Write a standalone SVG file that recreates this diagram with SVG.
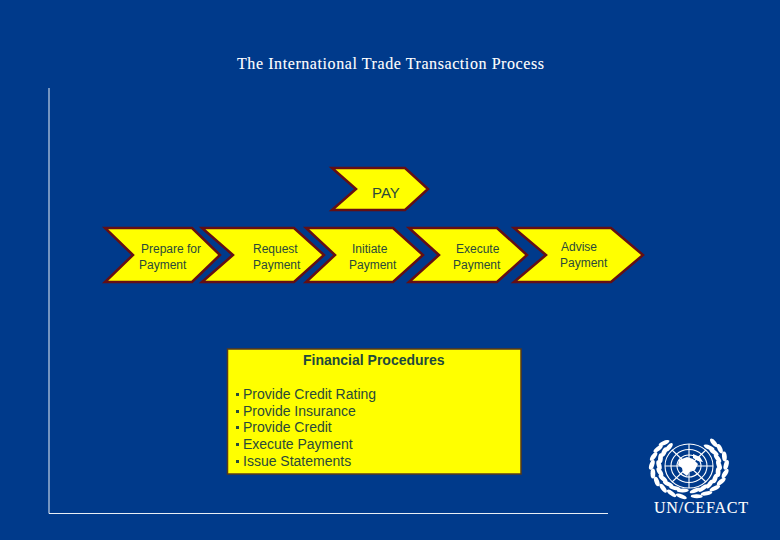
<svg xmlns="http://www.w3.org/2000/svg" width="780" height="540" viewBox="0 0 780 540">
<defs>
<g id="leaf"><ellipse cx="689" cy="491" rx="5" ry="2" transform="rotate(-14 689 491)" fill="#fff"/><ellipse cx="689" cy="497" rx="5" ry="2" transform="rotate(14 689 497)" fill="#fff"/></g>
</defs>
<style>
.ch{fill:#ffff00;stroke:#640f14;stroke-width:2.500;stroke-linejoin:miter}
.t{font-family:"Liberation Sans",Arial,sans-serif;font-size:12px;fill:#2a4a3a}
.b{font-family:"Liberation Sans",Arial,sans-serif;font-size:14px;fill:#2a4a3a}
.s{font-family:"Liberation Serif","Times New Roman",serif;fill:#fff;stroke:#fff;stroke-width:.1}
.e{fill:none;stroke:#fff;stroke-width:1.100}
.l{fill:#fff}
</style>
<rect width="780" height="540" fill="#003a8b"/>
<text class="s" x="237" y="69" font-size="16" textLength="307" lengthAdjust="spacing">The International Trade Transaction Process</text>
<g id="axes" fill="none" stroke="#e8eef5" stroke-width="1"><path d="M49 88V513.500H608"/></g>
<g id="pay"><path class="ch" d="M332 168H405L428 189L405 210H332L356 189Z"/><text x="372" y="198" class="b" style="font-size:15px">PAY</text></g>
<g id="prepare"><path class="ch" d="M105 228H192L220 255L192 282H105L133 255Z"/><text class="t" x="141" y="253">Prepare for</text><text class="t" x="139" y="269">Payment</text></g>
<g id="request"><path class="ch" d="M202 228H294L324 255L294 282H202L233 255Z"/><text class="t" x="253" y="253">Request</text><text class="t" x="253" y="269">Payment</text></g>
<g id="initiate"><path class="ch" d="M306 228H393L423 255L393 282H306L335 255Z"/><text class="t" x="352" y="253">Initiate</text><text class="t" x="349" y="269">Payment</text></g>
<g id="execute"><path class="ch" d="M409 228H497L527 255L497 282H409L439 255Z"/><text class="t" x="456" y="253">Execute</text><text class="t" x="453" y="269">Payment</text></g>
<g id="advise"><path class="ch" d="M514 228H611L643 255L611 282H514L546 255Z"/><text class="t" x="561" y="251">Advise</text><text class="t" x="560" y="267">Payment</text></g>
<g id="financial">
<rect x="227.500" y="349" width="293.500" height="125" fill="#ffff00" stroke="#5a3a1a" stroke-width="1.500"/>
<text class="b" x="303" y="365" style="font-weight:bold;fill:#1f4a3c">Financial Procedures</text>
<rect x="236" y="393" width="3" height="3" fill="#2a4a3a"/><text class="b" x="243" y="399">Provide Credit Rating</text>
<rect x="236" y="410" width="3" height="3" fill="#2a4a3a"/><text class="b" x="243" y="416">Provide Insurance</text>
<rect x="236" y="426" width="3" height="3" fill="#2a4a3a"/><text class="b" x="243" y="432">Provide Credit</text>
<rect x="236" y="443" width="3" height="3" fill="#2a4a3a"/><text class="b" x="243" y="449">Execute Payment</text>
<rect x="236" y="460" width="3" height="3" fill="#2a4a3a"/><text class="b" x="243" y="466">Issue Statements</text>
</g>
<g id="emblem">
<ellipse class="e" cx="689" cy="466" rx="24" ry="22"/><ellipse class="e" cx="689" cy="466" rx="18" ry="16.500"/><ellipse class="e" cx="689" cy="466" rx="12" ry="11"/><ellipse class="e" cx="689" cy="466" rx="6" ry="5.500"/>
<path class="e" d="M689 444V488M665 466H713M672 450L706 482M706 450L672 482"/>
<path class="l" d="M679 460l8-3 6 2 5 5-3 6-5 1-3 5-4-3-1-5-4-3zM693 454l7 3 3 5-5-1-5-3z"/>
<g transform="translate(689 466) scale(1.200 1) translate(-689 -466)">
<use href="#leaf" transform="rotate(12 689 466)"/>
<use href="#leaf" transform="rotate(28 689 466)"/>
<use href="#leaf" transform="rotate(44 689 466)"/>
<use href="#leaf" transform="rotate(60 689 466)"/>
<use href="#leaf" transform="rotate(76 689 466)"/>
<use href="#leaf" transform="rotate(92 689 466)"/>
<use href="#leaf" transform="rotate(108 689 466)"/>
<use href="#leaf" transform="rotate(124 689 466)"/>
<use href="#leaf" transform="rotate(138 689 466)"/>
<use href="#leaf" transform="rotate(-12 689 466)"/>
<use href="#leaf" transform="rotate(-28 689 466)"/>
<use href="#leaf" transform="rotate(-44 689 466)"/>
<use href="#leaf" transform="rotate(-60 689 466)"/>
<use href="#leaf" transform="rotate(-76 689 466)"/>
<use href="#leaf" transform="rotate(-92 689 466)"/>
<use href="#leaf" transform="rotate(-108 689 466)"/>
<use href="#leaf" transform="rotate(-124 689 466)"/>
<use href="#leaf" transform="rotate(-138 689 466)"/>
</g>
<text class="s" x="654" y="513" font-size="16" textLength="94" lengthAdjust="spacing">UN/CEFACT</text>
</g>
</svg>
